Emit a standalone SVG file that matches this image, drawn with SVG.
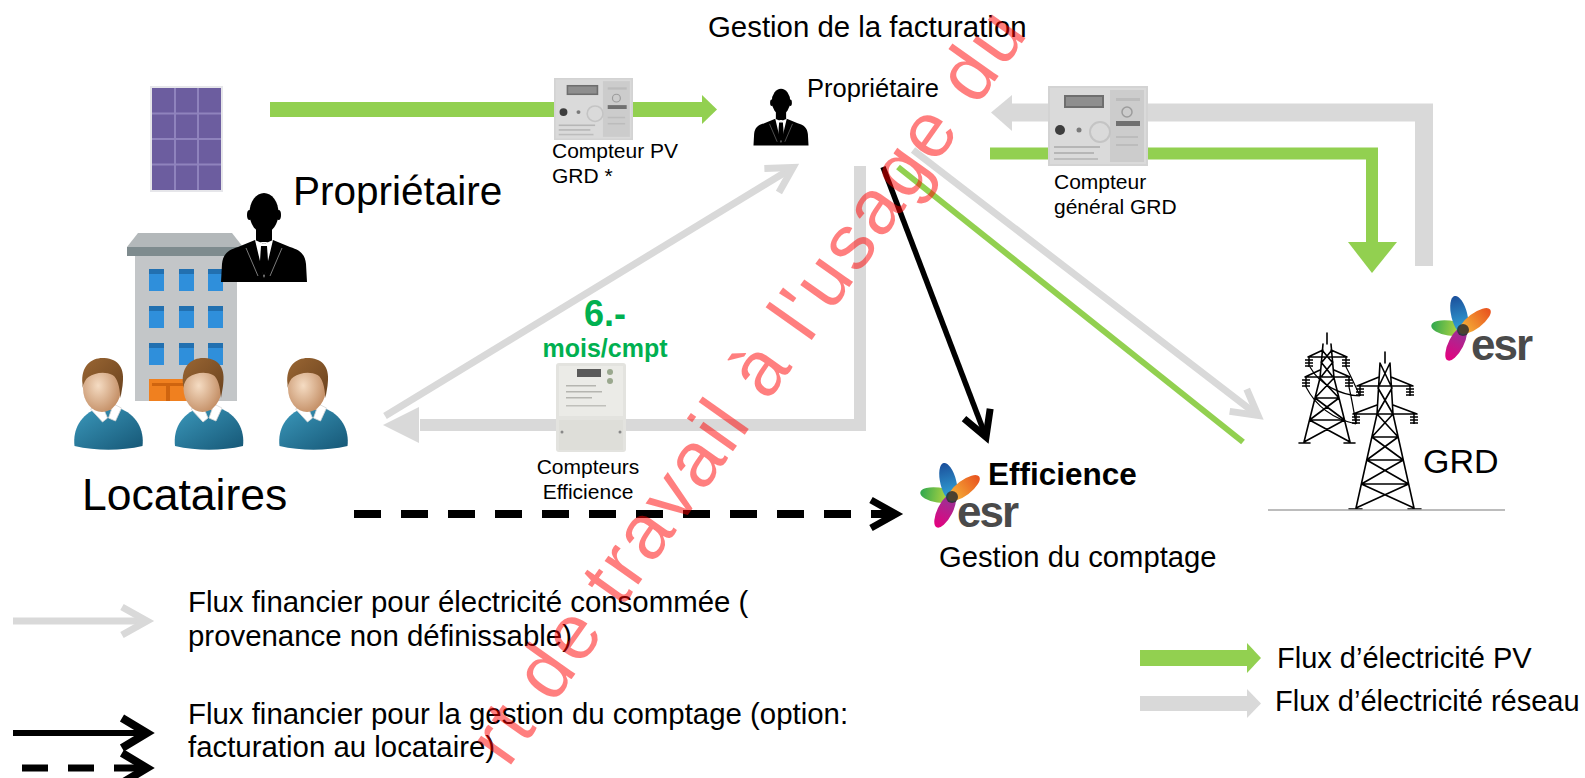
<svg xmlns="http://www.w3.org/2000/svg" width="1585" height="778" viewBox="0 0 1585 778">
<style>
.t{font-family:"Liberation Sans",Arial,Helvetica,sans-serif;fill:#000}
.b{font-weight:bold}
.grn{fill:#00b050;font-weight:bold}
.esr{font-family:"Liberation Sans",Arial,sans-serif;font-weight:bold;fill:#4a4a4a;font-size:44px;letter-spacing:-2px}
.gthick{fill:none;stroke:#d9d9d9;stroke-linejoin:miter}
.gthin{fill:none;stroke:#d9d9d9;stroke-width:7}
.pv{fill:none;stroke:#92d050;stroke-linejoin:miter}
.blk{fill:none;stroke:#000}
.tw{fill:none;stroke:#000;stroke-width:1.6;stroke-linecap:round}
</style>
<defs>
<marker id="chevGray" markerUnits="userSpaceOnUse" orient="auto" overflow="visible" markerWidth="1" markerHeight="1" refX="0" refY="0">
<path d="M-25,-14 L0,0 L-25,14" fill="none" stroke="#d9d9d9" stroke-width="7"/>
</marker>
<marker id="chevBlack" markerUnits="userSpaceOnUse" orient="auto" overflow="visible" markerWidth="1" markerHeight="1" refX="0" refY="0">
<path d="M-25,-14 L0,0 L-25,14" fill="none" stroke="#000" stroke-width="7"/>
</marker>
<marker id="chevBlackL" markerUnits="userSpaceOnUse" orient="auto" overflow="visible" markerWidth="1" markerHeight="1" refX="0" refY="0">
<path d="M-25,-15 L0,0 L-25,15" fill="none" stroke="#000" stroke-width="8"/>
</marker>
<linearGradient id="sweater" x1="0" y1="0" x2="1" y2="1"><stop offset="0" stop-color="#3b98bb"/><stop offset="1" stop-color="#165776"/></linearGradient>
<radialGradient id="skin" cx="0.4" cy="0.45" r="0.6"><stop offset="0" stop-color="#f5dcc3"/><stop offset="1" stop-color="#c48f66"/></radialGradient>
<linearGradient id="hair" x1="0" y1="0" x2="1" y2="1"><stop offset="0" stop-color="#9a6633"/><stop offset="1" stop-color="#6a421e"/></linearGradient>
<linearGradient id="pBlue" x1="0" y1="0" x2="1" y2="0"><stop offset="0" stop-color="#35b0e0"/><stop offset="1" stop-color="#1b4f9b"/></linearGradient>
<linearGradient id="pOrange" x1="0" y1="0" x2="1" y2="0"><stop offset="0" stop-color="#f7bd3a"/><stop offset="1" stop-color="#e8511f"/></linearGradient>
<linearGradient id="pGreen" x1="0" y1="0" x2="1" y2="0"><stop offset="0" stop-color="#dbe23c"/><stop offset="1" stop-color="#2fa84f"/></linearGradient>
<linearGradient id="pPink" x1="0" y1="0" x2="1" y2="0"><stop offset="0" stop-color="#8c3b9a"/><stop offset="1" stop-color="#e6007e"/></linearGradient>
<filter id="soft" x="-5%" y="-5%" width="110%" height="110%"><feGaussianBlur stdDeviation="0.7"/></filter>
<g id="tenant">
<path d="M-34,88 C-36,72 -28,56 -10,50 L10,50 C28,56 36,72 34,88 C12,93 -12,93 -34,88 Z" fill="url(#sweater)"/>
<path d="M-13,36 L1,36 L5,52 L-15,52 Z" fill="#c7966c"/>
<path d="M-18,51 L-7,46 L-1,60 L-6,64 Z" fill="#fff" stroke="#d6d6d6" stroke-width="0.8"/>
<path d="M13,50 L5,46 L0,60 L7,63 Z" fill="#fff" stroke="#d6d6d6" stroke-width="0.8"/>
<ellipse cx="-6.5" cy="30" rx="19" ry="24" fill="url(#skin)"/>
<path d="M-26,26 C-28,7 -16,-1 -4,0 C10,1 17,10 14,28 L12,40 C11,28 9,20 4,17 C-4,13 -14,15 -20,19 C-23,21 -25,25 -26,30 Z" fill="url(#hair)"/>
</g>
<g id="owner">
<ellipse cx="0" cy="21" rx="14.5" ry="20" fill="#000"/>
<ellipse cx="-14.5" cy="23" rx="2.5" ry="5" fill="#000"/>
<ellipse cx="14.5" cy="23" rx="2.5" ry="5" fill="#000"/>
<rect x="-8" y="34" width="16" height="16" fill="#000"/>
<path d="M-43,90 L-42,72 C-41,62 -36,58 -26,55 L-9,48 L0,52 L9,48 L26,55 C36,58 41,62 42,72 L43,90 Z" fill="#000"/>
<path d="M-9,48 L0,86 L9,48 L0,52 Z" fill="#fff"/>
<path d="M-3,54 L3,54 L4.5,76 L0,84 L-4.5,76 Z" fill="#000"/>
<path d="M-18,56 L-6,84 M18,56 L6,84" stroke="#fff" stroke-width="0.8" opacity="0.6"/>
</g>
<g id="meterGray" filter="url(#soft)">
<rect width="100" height="80" fill="#d3d3d3"/>
<rect x="2" y="2" width="96" height="76" fill="#dadada"/>
<rect x="62" y="4" width="34" height="72" fill="#cccccc"/>
<rect x="16" y="9" width="40" height="13" fill="#6e6e6e"/>
<rect x="18" y="11" width="36" height="9" fill="#8e8e8e"/>
<circle cx="12" cy="44" r="5" fill="#3d3d3d"/>
<circle cx="31" cy="44" r="2.5" fill="#7a7a7a"/>
<circle cx="52" cy="46" r="10" fill="none" stroke="#c4c4c4" stroke-width="2"/>
<rect x="6" y="60" width="46" height="2" fill="#b6b6b6"/>
<rect x="6" y="66" width="40" height="2" fill="#b6b6b6"/>
<rect x="6" y="72" width="44" height="2" fill="#bdbdbd"/>
<circle cx="79" cy="26" r="5" fill="none" stroke="#9c9c9c" stroke-width="1.5"/>
<rect x="68" y="35" width="24" height="5" fill="#6f6f6f"/>
<rect x="68" y="12" width="24" height="3" fill="#bcbcbc"/>
<rect x="68" y="50" width="22" height="2" fill="#bcbcbc"/>
<rect x="68" y="58" width="22" height="2" fill="#bcbcbc"/>
</g>
<g id="esrFlower">
<ellipse cx="14" cy="0" rx="18" ry="7.5" transform="rotate(-172)" fill="url(#pGreen)"/>
<ellipse cx="15" cy="0" rx="19" ry="7.5" transform="rotate(117)" fill="url(#pPink)"/>
<ellipse cx="15" cy="0" rx="20" ry="8" transform="rotate(-104)" fill="url(#pBlue)"/>
<ellipse cx="15" cy="0" rx="19" ry="7.5" transform="rotate(-37)" fill="url(#pOrange)"/>
<circle cx="0" cy="0" r="6" fill="#2e2e2e" opacity="0.85"/>
</g>
<g id="ins"><path d="M0,0 V10 M-4,3 H4 M-4,6 H4 M-4,9 H4" fill="none" stroke="#000" stroke-width="1.5"/></g>
</defs>

<rect width="1585" height="778" fill="#fff"/>

<g id="connectors">
<path class="pv" d="M270,109.5 H703" stroke-width="15"/>
<polygon points="702,95 717,109.5 702,124" fill="#92d050"/>
<path class="gthick" d="M1424,266 V112.5 H1012" stroke-width="18"/>
<polygon points="991,112.5 1012,95 1012,131" fill="#d9d9d9"/>
<path class="pv" d="M990,153.5 H1372 V243" stroke-width="12"/>
<polygon points="1348,242 1397,242 1372,273" fill="#92d050"/>
<path class="gthick" d="M860,166 V425 H420" stroke-width="12"/>
<polygon points="383,425 419,407 419,443" fill="#d9d9d9"/>
<path class="gthin" d="M385,416 L793,167.5" marker-end="url(#chevGray)"/>
<path class="gthin" d="M913,150 L1258,415.5" marker-end="url(#chevGray)"/>
<path class="pv" d="M898,167 L1243,442" stroke-width="6"/>
<path class="blk" d="M883,167 L986,437" stroke-width="5.5" marker-end="url(#chevBlack)"/>
<path class="blk" d="M354,514 H896" stroke-width="8" stroke-dasharray="27 20" marker-end="url(#chevBlack)"/>
</g>

<g id="node-solar">
<rect x="150" y="86" width="73" height="106" fill="#e6e6ea"/>
<rect x="152" y="88" width="69" height="102" fill="#6c5d9f"/>
<path d="M175,88 V190 M198,88 V190 M152,113.5 H221 M152,139 H221 M152,164.5 H221" stroke="#8f83bd" stroke-width="2"/>
</g>

<g id="node-building">
<polygon points="138,233 232,233 243,247 127,247" fill="#b3b8ba"/>
<rect x="127" y="247" width="116" height="9" fill="#7e8b8e"/>
<rect x="135" y="256" width="102" height="145" fill="#c3c6c8"/>
<g fill="#2f8fdb">
<rect x="149" y="269" width="15" height="22"/><rect x="179" y="269" width="15" height="22"/><rect x="208" y="269" width="15" height="22"/>
<rect x="149" y="306" width="15" height="22"/><rect x="179" y="306" width="15" height="22"/><rect x="208" y="306" width="15" height="22"/>
<rect x="149" y="343" width="15" height="22"/><rect x="179" y="343" width="15" height="22"/><rect x="208" y="343" width="15" height="22"/>
</g>
<g fill="#2270b0">
<rect x="149" y="269" width="15" height="5"/><rect x="179" y="269" width="15" height="5"/><rect x="208" y="269" width="15" height="5"/>
<rect x="149" y="306" width="15" height="5"/><rect x="179" y="306" width="15" height="5"/><rect x="208" y="306" width="15" height="5"/>
<rect x="149" y="343" width="15" height="5"/><rect x="179" y="343" width="15" height="5"/><rect x="208" y="343" width="15" height="5"/>
</g>
<rect x="149" y="379" width="38" height="22" fill="#f0801f"/>
<rect x="152" y="383" width="32" height="3" fill="#cf640f"/>
<rect x="166" y="383" width="4" height="18" fill="#cf640f"/>
</g>

<g id="node-owner-main">
<use href="#owner" transform="translate(264,192)"/>
<text class="t" x="293" y="205" font-size="40.5">Propriétaire</text>
</g>

<g id="node-tenants">
<use href="#tenant" transform="translate(108.5,358)"/>
<use href="#tenant" transform="translate(209,358)"/>
<use href="#tenant" transform="translate(313.5,358)"/>
<text class="t" x="82" y="510" font-size="44.5">Locataires</text>
</g>

<g id="node-owner-top">
<text class="t" x="708" y="37" font-size="29.4">Gestion de la facturation</text>
<use href="#owner" transform="translate(781,88) scale(0.64)"/>
<text class="t" x="807" y="97" font-size="25.5">Propriétaire</text>
</g>

<g id="node-meter-pv">
<use href="#meterGray" transform="translate(554,78) scale(0.79,0.775)"/>
<text class="t" x="552" y="158" font-size="21">Compteur PV</text>
<text class="t" x="552" y="183" font-size="21">GRD *</text>
</g>

<g id="node-meter-grd">
<use href="#meterGray" transform="translate(1048,86)"/>
<text class="t" x="1054" y="189" font-size="21">Compteur</text>
<text class="t" x="1054" y="214" font-size="21">général GRD</text>
</g>

<g id="node-meter-eff">
<text class="t grn" x="605" y="326" font-size="36" text-anchor="middle">6.-</text>
<text class="t grn" x="605" y="357" font-size="25" text-anchor="middle">mois/cmpt</text>
<g filter="url(#soft)">
<rect x="556" y="363" width="70" height="89" rx="3" fill="#e3e3df"/>
<rect x="559" y="366" width="64" height="50" fill="#ebebe7"/>
<rect x="577" y="369" width="24" height="8" fill="#5a5a5a"/>
<circle cx="610" cy="372" r="3" fill="#9aa88e"/>
<circle cx="610" cy="381" r="3" fill="#9aa88e"/>
<rect x="566" y="385" width="30" height="1.5" fill="#b5b5b0"/>
<rect x="566" y="391" width="36" height="1.5" fill="#b5b5b0"/>
<rect x="566" y="397" width="26" height="1.5" fill="#b5b5b0"/>
<rect x="566" y="405" width="40" height="1.5" fill="#c0c0bb"/>
<rect x="559" y="420" width="64" height="30" fill="#deded9"/>
<circle cx="562" cy="432" r="1.5" fill="#888"/>
<circle cx="620" cy="432" r="1.5" fill="#888"/>
</g>
<text class="t" x="588" y="474" font-size="21" text-anchor="middle">Compteurs</text>
<text class="t" x="588" y="499" font-size="21" text-anchor="middle">Efficience</text>
</g>

<g id="node-efficience">
<use href="#esrFlower" transform="translate(952,497)"/>
<text class="esr" x="957" y="527">esr</text>
<text class="t b" x="988" y="485" font-size="31.5">Efficience</text>
<text class="t" x="939" y="567" font-size="29.2">Gestion du comptage</text>
</g>

<g id="node-grd">
<use href="#esrFlower" transform="translate(1463,330)"/>
<text class="esr" x="1471" y="360">esr</text>
<path class="tw" d="M1327,333 V344 M1323,344 L1320,378 M1331,344 L1334,378 M1322,350 L1332,362 M1332,350 L1322,362 M1321,362 L1333,377 M1333,362 L1321,377 M1308,357 H1347 M1308,357 L1323,350 M1347,357 L1331,350 M1305,377 H1350 M1305,377 L1320,370 M1350,377 L1334,370 M1320,378 L1304,442 M1334,378 L1350,442 M1320,378 L1339,398 M1334,378 L1315,398 M1315,398 L1344.5,420 M1339,398 L1309.5,420 M1309.5,420 L1350,442 M1344.5,420 L1304,442 M1315,398 H1339 M1309.5,420 H1344.5 M1299,443 H1310 M1344,443 H1355"/>
<path class="tw" d="M1385,352 V363 M1380,363 L1377,414 M1390,363 L1393,414 M1380,363 L1392,388 M1390,363 L1378,388 M1378,388 L1393,414 M1392,388 L1377,414 M1357,386 H1413 M1357,386 L1379,377 M1413,386 L1391,377 M1353,414 H1417 M1353,414 L1377,405 M1417,414 L1393,405 M1377,414 L1356,508 M1393,414 L1414,508 M1377,414 L1398.1,437 M1393,414 L1371.9,437 M1371.9,437 L1403.3,460 M1398.1,437 L1366.7,460 M1366.7,460 L1408.6,484 M1403.3,460 L1361.4,484 M1361.4,484 L1414,508 M1408.6,484 L1356,508 M1371.9,437 H1398.1 M1366.7,460 H1403.3 M1361.4,484 H1408.6 M1349,509 H1362 M1408,509 H1421"/>
<use href="#ins" x="1309" y="357"/><use href="#ins" x="1346" y="357"/>
<use href="#ins" x="1306" y="377"/><use href="#ins" x="1349" y="377"/>
<use href="#ins" x="1360" y="386"/><use href="#ins" x="1410" y="386"/>
<use href="#ins" x="1356" y="414"/><use href="#ins" x="1414" y="414"/>
<path d="M1346,367 C1352,378 1356,388 1360,396 M1349,387 C1352,400 1354,412 1356,424 M1310,367 C1320,385 1340,395 1360,396 M1306,387 C1318,410 1338,420 1356,424" fill="none" stroke="#000" stroke-width="1.2"/>
<text class="t" x="1423" y="473" font-size="34">GRD</text>
<path d="M1268,510 H1505" stroke="#a6a6a6" stroke-width="1.5"/>
</g>

<g id="legend">
<path class="gthin" d="M13,621 H147" marker-end="url(#chevGray)"/>
<text class="t" x="188" y="612" font-size="29.4">Flux financier pour électricité consommée (</text>
<text class="t" x="188" y="646" font-size="29.4">provenance non définissable)</text>
<path class="blk" d="M13,733 H147" stroke-width="6" marker-end="url(#chevBlackL)"/>
<path class="blk" d="M22,768 H147" stroke-width="7" stroke-dasharray="26 20" marker-end="url(#chevBlackL)"/>
<text class="t" x="188" y="724" font-size="29.4">Flux financier pour la gestion du comptage (option:</text>
<text class="t" x="188" y="757" font-size="29.4">facturation au locataire)</text>
<rect x="1140" y="650" width="108" height="16" fill="#92d050"/>
<polygon points="1247,643 1261,658 1247,673" fill="#92d050"/>
<rect x="1140" y="696" width="108" height="15" fill="#d9d9d9"/>
<polygon points="1247,689 1261,703.5 1247,718" fill="#d9d9d9"/>
<text class="t" x="1277" y="668" font-size="29">Flux d’électricité PV</text>
<text class="t" x="1275" y="711" font-size="29">Flux d’électricité réseau</text>
</g>

<g id="watermark">
<text class="t" transform="translate(508,769) rotate(-54.7)" font-size="78" letter-spacing="3" style="fill:#ff0000;fill-opacity:0.5">rt de travail à l'usage du C</text>
</g>
</svg>
